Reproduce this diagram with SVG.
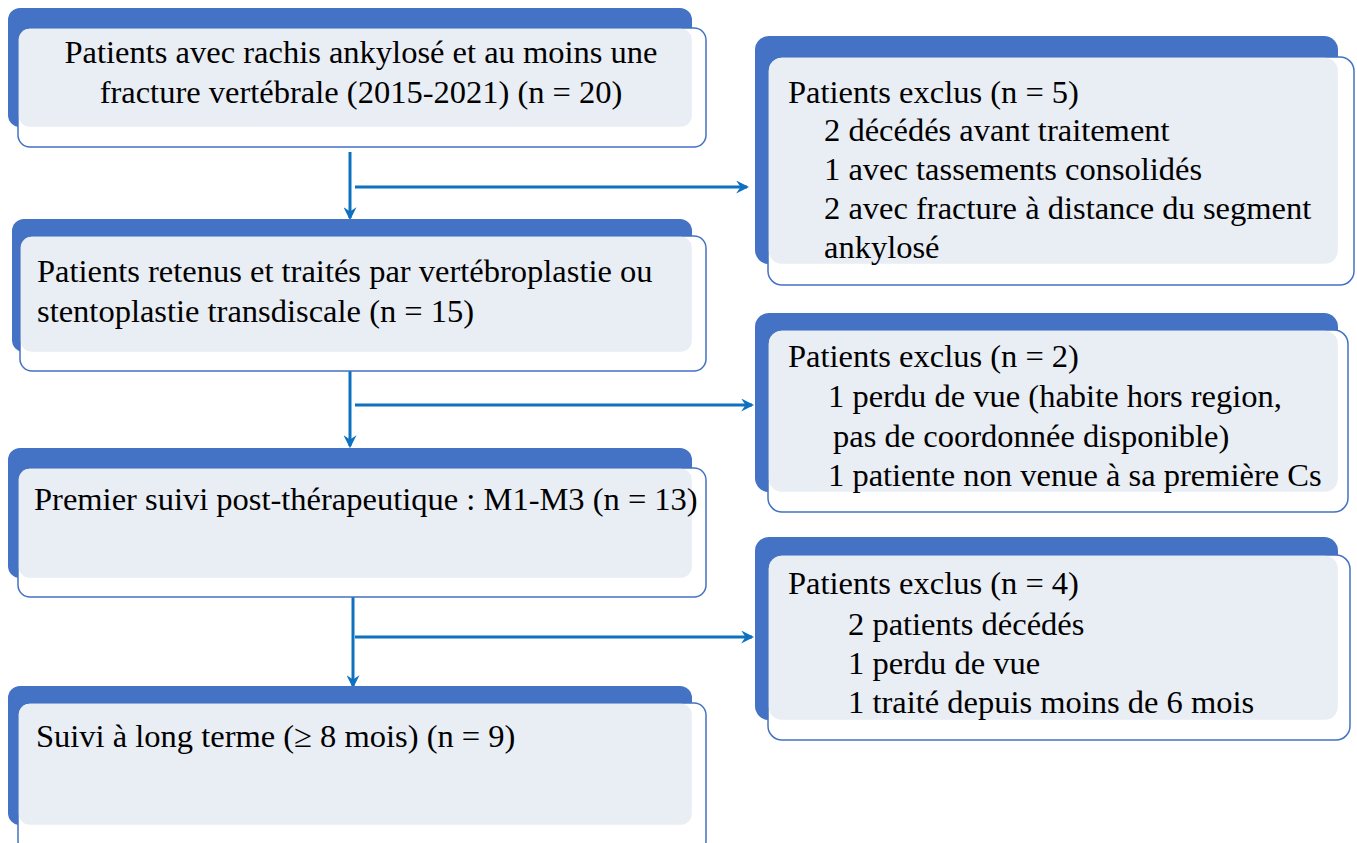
<svg xmlns="http://www.w3.org/2000/svg" width="1357" height="843" viewBox="0 0 1357 843">
<defs>
<style>
.back{fill:#4472C4;}
.front{fill:#FFFFFF;stroke:#4472C4;stroke-width:1.5;}
.inner{fill:#E9EDF4;}
.c{stroke:#0E70C0;stroke-width:3;fill:none;}
</style>
<marker id="ah" viewBox="0 0 12 12" refX="10" refY="6" markerWidth="13" markerHeight="13" markerUnits="userSpaceOnUse" orient="auto">
<path d="M0,0 L12,6 L0,12 L4,6 Z" fill="#0E70C0"/>
</marker>
</defs>
<rect width="1357" height="843" fill="#FFFFFF"/>
<g id="connectors">
<line class="c" x1="350" y1="152" x2="350" y2="218" marker-end="url(#ah)"/>
<line class="c" x1="355" y1="187" x2="747" y2="187" marker-end="url(#ah)"/>
<line class="c" x1="350" y1="370" x2="350" y2="446" marker-end="url(#ah)"/>
<line class="c" x1="355" y1="405" x2="752" y2="405" marker-end="url(#ah)"/>
<line class="c" x1="353" y1="592" x2="353" y2="686" marker-end="url(#ah)"/>
<line class="c" x1="355" y1="637" x2="752" y2="637" marker-end="url(#ah)"/>
</g>
<g id="n1">
<rect class="back" x="8" y="8" width="684" height="119" rx="12"/>
<rect class="front" x="18" y="28" width="688" height="119" rx="12"/>
<rect class="inner" x="18.8" y="28.8" width="673" height="98" rx="11"/>
<text font-family="Liberation Serif" font-size="32.5" x="361" y="63" text-anchor="middle">Patients avec rachis ankylosé et au moins une</text>
<text font-family="Liberation Serif" font-size="32.5" x="361" y="103" text-anchor="middle">fracture vertébrale (2015-2021) (n = 20)</text>
</g>
<g id="n2">
<rect class="back" x="12" y="219" width="680" height="133" rx="12"/>
<rect class="front" x="20" y="236" width="686" height="135" rx="12"/>
<rect class="inner" x="20.8" y="236.8" width="671" height="115" rx="11"/>
<text font-family="Liberation Serif" font-size="32.5" x="37" y="282">Patients retenus et traités par vertébroplastie ou</text>
<text font-family="Liberation Serif" font-size="32.5" x="37" y="322">stentoplastie transdiscale (n = 15)</text>
</g>
<g id="n3">
<rect class="back" x="8" y="448" width="684" height="130" rx="12"/>
<rect class="front" x="18" y="468" width="688" height="129" rx="12"/>
<rect class="inner" x="18.8" y="468.8" width="673" height="109" rx="11"/>
<text font-family="Liberation Serif" font-size="32.5" x="34" y="510">Premier suivi post-thérapeutique : M1-M3 (n = 13)</text>
</g>
<g id="n4">
<rect class="back" x="8" y="686" width="684" height="139" rx="12"/>
<rect class="front" x="18" y="703" width="688" height="150" rx="12"/>
<rect class="inner" x="18.8" y="703.8" width="673" height="121" rx="11"/>
<text font-family="Liberation Serif" font-size="32.5" x="36" y="747">Suivi à long terme (≥ 8 mois) (n = 9)</text>
</g>
<g id="r1">
<rect class="back" x="755" y="36" width="583" height="228" rx="14"/>
<rect class="front" x="768" y="57" width="586" height="228" rx="14"/>
<rect class="inner" x="768.8" y="57.8" width="569" height="206" rx="13"/>
<text font-family="Liberation Serif" font-size="32.5" x="788" y="103">Patients exclus (n = 5)</text>
<text font-family="Liberation Serif" font-size="32.5" x="824" y="141">2 décédés avant traitement</text>
<text font-family="Liberation Serif" font-size="32.5" x="824" y="180">1 avec tassements consolidés</text>
<text font-family="Liberation Serif" font-size="32.5" x="824" y="219">2 avec fracture à distance du segment</text>
<text font-family="Liberation Serif" font-size="32.5" x="824" y="258">ankylosé</text>
</g>
<g id="r2">
<rect class="back" x="755" y="313" width="583" height="179" rx="14"/>
<rect class="front" x="768" y="330" width="580" height="182" rx="14"/>
<rect class="inner" x="768.8" y="330.8" width="569" height="161" rx="13"/>
<text font-family="Liberation Serif" font-size="32.5" x="788" y="367">Patients exclus (n = 2)</text>
<text font-family="Liberation Serif" font-size="32.5" x="828" y="407">1 perdu de vue (habite hors region,</text>
<text font-family="Liberation Serif" font-size="32.5" x="833" y="447">pas de coordonnée disponible)</text>
<text font-family="Liberation Serif" font-size="32.5" x="828" y="486">1 patiente non venue à sa première Cs</text>
</g>
<g id="r3">
<rect class="back" x="755" y="537" width="583" height="183" rx="14"/>
<rect class="front" x="768" y="555" width="582" height="185" rx="14"/>
<rect class="inner" x="768.8" y="555.8" width="569" height="164" rx="13"/>
<text font-family="Liberation Serif" font-size="32.5" x="788" y="594">Patients exclus (n = 4)</text>
<text font-family="Liberation Serif" font-size="32.5" x="848" y="635">2 patients décédés</text>
<text font-family="Liberation Serif" font-size="32.5" x="848" y="674">1 perdu de vue</text>
<text font-family="Liberation Serif" font-size="32.5" x="848" y="713">1 traité depuis moins de 6 mois</text>
</g>
</svg>
